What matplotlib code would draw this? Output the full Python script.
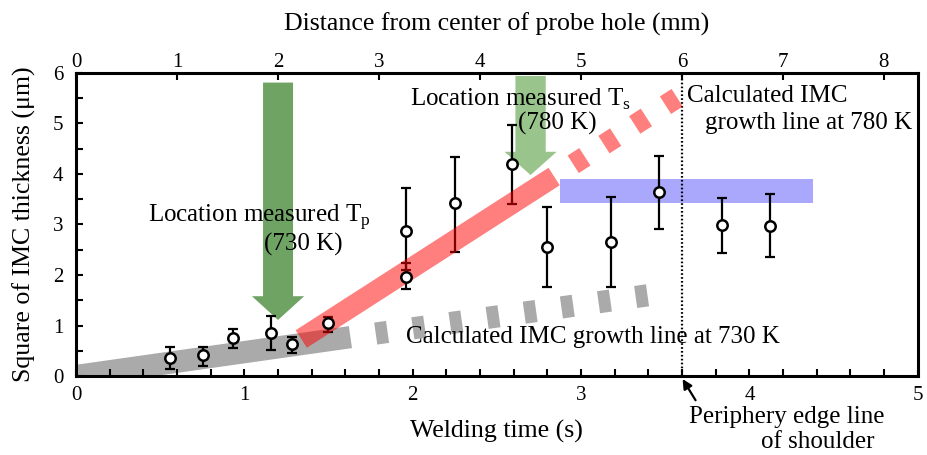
import numpy as np
import matplotlib
matplotlib.use("Agg")
from matplotlib import pyplot as plt
from matplotlib.patches import FancyArrow

plt.rcParams["font.family"] = "Liberation Serif"
plt.rcParams["mathtext.fontset"] = "custom"
plt.rcParams["mathtext.rm"] = "Liberation Serif"
plt.rcParams["lines.scale_dashes"] = False

# measured points: welding time (s), square of IMC thickness, error bar ends
t = [0.56, 0.756, 0.934, 1.156, 1.28, 1.495, 1.96, 1.96, 2.25, 2.587, 2.80, 3.18, 3.46, 3.84, 4.12]
y = [0.36, 0.41, 0.75, 0.86, 0.63, 1.04, 1.97, 2.87, 3.42, 4.19, 2.56, 2.66, 3.65, 2.99, 2.98]
y_hi = [0.58, 0.58, 0.94, 1.19, 0.78, 1.17, 2.23, 3.72, 4.34, 4.97, 3.35, 3.55, 4.36, 3.53, 3.60]
y_lo = [0.13, 0.20, 0.55, 0.51, 0.45, 0.88, 1.72, 2.10, 2.46, 3.40, 1.76, 1.76, 2.92, 2.43, 2.36]

# calculated growth lines
gray_t = [0.0, 1.63]
gray_y = [0.0, 0.77]
gray_dash_t = [1.63, 3.40]
gray_dash_y = [0.77, 1.60]
red_t = [1.338, 2.84]
red_y = [0.733, 3.95]
red_dash_t = [2.84, 3.58]
red_dash_y = [3.95, 5.53]

# band of measured values at the shoulder
blue_t = [2.874, 4.38]
blue_lo = 3.43
blue_hi = 3.91

shoulder_t = 3.6
mm_per_s = 8.337 / 5

fig = plt.figure(figsize=(9.28, 4.55), dpi=100)
ax = fig.add_axes([0.0819, 0.1736, 0.9071, 0.666])

ax.plot(gray_t, gray_y, color="#aaaaaa", lw=16, solid_capstyle="butt", zorder=1)
ax.plot(gray_dash_t, gray_dash_y, color="#aaaaaa", lw=16, ls=(8.6, (8.6, 18.4)),
        dash_capstyle="butt", zorder=1)
ax.fill_between(blue_t, blue_lo, blue_hi, color="#aaa8fc", lw=0, zorder=1)

# green arrows
ax.add_patch(FancyArrow(1.2, 5.81, 0, 1.11 - 5.81, width=0.178, head_width=0.31,
                        head_length=0.47, length_includes_head=True, color="#6fa363", lw=0, zorder=2))
ax.add_patch(FancyArrow(2.70, 5.94, 0, 3.98 - 5.94, width=0.18, head_width=0.31,
                        head_length=0.46, length_includes_head=True, color="#99c48c", lw=0, zorder=2))

ax.axvline(shoulder_t, color="k", ls=(0, (1.2, 1.6)), lw=1.6, zorder=2)

yerr = [np.array(y) - np.array(y_lo), np.array(y_hi) - np.array(y)]
ax.errorbar(t, y, yerr=yerr, fmt="none", ecolor="k", elinewidth=1.6, capsize=3.5,
            capthick=1.6, zorder=3)

ax.plot(red_t, red_y, color="red", alpha=0.5, lw=15, solid_capstyle="butt", zorder=4)
ax.plot(red_dash_t, red_dash_y, color="red", alpha=0.5, lw=15, ls=(10, (10, 16.3)),
        dash_capstyle="butt", zorder=4)

ax.plot(t, y, "o", color="k", markersize=7.5, markerfacecolor="white", markeredgewidth=1.8, zorder=5)

ax.set_xlim(0, 5)
ax.set_ylim(0, 6)
ax.set_xticks(np.arange(0, 5.01, 1))
ax.set_xticks(np.arange(0, 5.01, 0.2), minor=True)
ax.set_yticks(np.arange(0, 6.01, 1))
ax.set_yticks(np.arange(0, 6.01, 0.5), minor=True)
ax.tick_params(which="both", direction="in", length=5, width=1.5, labelsize=15,
               right=False, top=False)
ax.tick_params(axis="x", pad=7)
ax.tick_params(axis="y", pad=9)
for s in ax.spines.values():
    s.set_linewidth(2.2)

ax.set_xlabel("Welding time (s)", fontsize=18.6, labelpad=11)
ax.set_ylabel("Square of IMC thickness (\u03bcm)", fontsize=18.6, labelpad=12)

ax2 = ax.twiny()
ax2.set_xlim(0, 5 * mm_per_s)
ax2.set_xticks(np.arange(0, 8.01, 1))
ax2.tick_params(direction="in", length=5, width=1.5, labelsize=15, pad=1)
ax2.set_xlabel("Distance from center of probe hole (mm)", fontsize=18.6, labelpad=16)

fs = 18
ax.text(0.428, 3.055, r"Location measured T$_\mathrm{p}$", fontsize=fs, zorder=6)
ax.text(1.35, 2.49, "(730 K)", fontsize=fs, ha="center", zorder=6)
ax.text(1.983, 5.35, r"Location measured T$_\mathrm{s}$", fontsize=fs, zorder=6)
ax.text(2.86, 4.87, "(780 K)", fontsize=fs, ha="center", zorder=6)
ax.text(3.628, 5.43, "Calculated IMC", fontsize=fs, zorder=6)
ax.text(3.735, 4.90, "growth line at 780 K", fontsize=fs, zorder=6)
ax.text(1.96, 0.647, "Calculated IMC growth line at 730 K", fontsize=fs, zorder=6)
ax.text(3.64, -0.94, "Periphery edge line", fontsize=fs, clip_on=False)
ax.text(4.745, -1.43, "of shoulder", fontsize=fs, ha="right", clip_on=False)
ax.annotate("", xy=(3.603, -0.06), xytext=(3.68, -0.48), annotation_clip=False,
            arrowprops=dict(arrowstyle="-|>", color="k", lw=1.6, mutation_scale=14,
                            shrinkA=0, shrinkB=0))

fig.savefig("out.png", dpi=100)
